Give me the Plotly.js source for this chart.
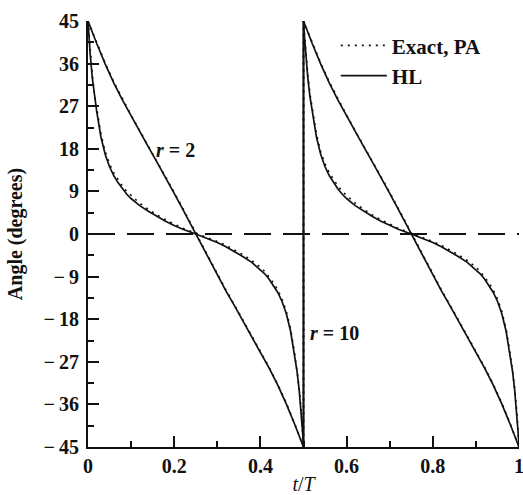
<!DOCTYPE html>
<html>
<head>
<meta charset="utf-8">
<script src="https://cdn.plot.ly/plotly-3.0.1.min.js"></script>
<style>
  html, body { margin: 0; padding: 0; background: #fff; }
  #chart { width: 523px; height: 495px; }
</style>
</head>
<body>
<div id="chart"></div>
<script>
// One half-period (t/T from 0 to 0.5) of each angle history; the second
// half-period repeats it.
const tR2 = [0, 0.01, 0.02, 0.04, 0.06, 0.08, 0.10, 0.12, 0.14, 0.16, 0.18, 0.20, 0.22, 0.25,
             0.28, 0.30, 0.32, 0.34, 0.36, 0.38, 0.40, 0.42, 0.44, 0.46, 0.48, 0.49, 0.5];
const hlR2 = [45, 42.6, 40.3, 35.9, 31.9, 28.3, 24.9, 21.6, 18.4, 15.2, 12.0, 8.6, 5.2, 0,
              -5.2, -8.6, -12.0, -15.2, -18.4, -21.6, -24.9, -28.3, -31.9, -35.9, -40.3, -42.6, -45];
const exactR2 = [45, 42.7, 40.4, 36.1, 32.1, 28.5, 25.1, 21.8, 18.6, 15.4, 12.2, 8.8, 5.4, 0.2,
                 -5.0, -8.4, -11.8, -15.0, -18.2, -21.4, -24.7, -28.1, -31.7, -35.7, -40.2, -42.5, -45];

const tR10 = [0, 0.002, 0.005, 0.01, 0.015, 0.02, 0.03, 0.04, 0.05, 0.06, 0.07,
              0.08, 0.09, 0.10, 0.12, 0.14, 0.16, 0.18, 0.20, 0.22, 0.25,
              0.28, 0.30, 0.32, 0.34, 0.36, 0.38, 0.40, 0.41, 0.42, 0.43,
              0.44, 0.45, 0.46, 0.47, 0.48, 0.485, 0.49, 0.495, 0.498, 0.5];
const hlR10 = [45, 42, 38, 33, 29, 26, 20.5, 16.8, 14.2, 12.3, 10.8,
               9.5, 8.4, 7.5, 6.0, 4.8, 3.7, 2.7, 1.8, 1.0, 0,
               -1.0, -1.8, -2.7, -3.7, -4.8, -6.0, -7.5, -8.4, -9.5, -10.8,
               -12.3, -14.2, -16.8, -20.5, -26, -29, -33, -38, -42, -45];
const exactR10 = [45, 42.3, 38.5, 33.6, 29.6, 26.6, 21.1, 17.4, 14.8, 12.9, 11.4,
                  10.1, 9.0, 8.1, 6.5, 5.2, 4.0, 3.0, 2.1, 1.2, 0.2,
                  -0.8, -1.6, -2.4, -3.4, -4.4, -5.6, -7.0, -7.9, -9.0, -10.3,
                  -11.8, -13.7, -16.3, -20.0, -25.5, -28.6, -32.6, -37.6, -41.8, -45];

const xTickVals = [0, 0.2, 0.4, 0.6, 0.8, 1];
const xTickText = ['0', '0.2', '0.4', '0.6', '0.8', '1'];
const yTickVals = [-45, -36, -27, -18, -9, 0, 9, 18, 27, 36, 45];
const yTickText = ['\u2212\u200945', '\u2212\u200936', '\u2212\u200927', '\u2212\u200918', '\u2212\u20099',
                   '0', '9', '18', '27', '36', '45'];

// Two periods: the half-period values again, shifted by 0.5 in t/T.
function twoPeriods(ts, vs) {
  return { x: ts.concat(ts.map(t => t + 0.5)), y: vs.concat(vs) };
}

const serif = 'Liberation Serif, Times New Roman, serif';
const ink = '#111';

const dotted = { color: ink, width: 1.6, dash: '2px,5px' };
const solid = { color: ink, width: 1.7 };

const e2 = twoPeriods(tR2, exactR2);
const e10 = twoPeriods(tR10, exactR10);
const h2 = twoPeriods(tR2, hlR2);
const h10 = twoPeriods(tR10, hlR10);

const traces = [
  { x: e10.x, y: e10.y, mode: 'lines', line: dotted, name: 'Exact, PA', legendgroup: 'exact', showlegend: true },
  { x: e2.x, y: e2.y, mode: 'lines', line: dotted, name: 'Exact, PA', legendgroup: 'exact', showlegend: false },
  { x: h2.x, y: h2.y, mode: 'lines', line: solid, name: 'HL', legendgroup: 'hl', showlegend: true },
  { x: h10.x, y: h10.y, mode: 'lines', line: solid, name: 'HL', legendgroup: 'hl', showlegend: false },
  { x: [0, 1], y: [0, 0], mode: 'lines', line: { color: ink, width: 2, dash: '27px,12px' }, showlegend: false, hoverinfo: 'skip' }
];

const labelFont = { family: serif, size: 20, color: ink, weight: 'bold' };

const axisCommon = {
  showline: true, linecolor: ink, linewidth: 2,
  ticks: 'inside', ticklen: 11, tickwidth: 2, tickcolor: ink,
  showgrid: false, zeroline: false, mirror: false,
  tickfont: labelFont, ticklabeloverflow: 'allow',
  tickmode: 'array', fixedrange: true
};

const layout = {
  width: 523, height: 495,
  margin: { l: 88, r: 4, t: 21, b: 48 },
  paper_bgcolor: '#fff', plot_bgcolor: '#fff',
  font: { family: serif, size: 20, color: ink },
  xaxis: Object.assign({}, axisCommon, {
    range: [0, 1], tickvals: xTickVals, ticktext: xTickText,
    minor: { dtick: 0.1, tick0: 0, ticks: 'inside', ticklen: 6, tickwidth: 2, tickcolor: ink },
    title: { text: '<i>t</i>/<i>T</i>', font: { family: serif, size: 20, color: ink }, standoff: 5 }
  }),
  yaxis: Object.assign({}, axisCommon, {
    range: [-45, 45], tickvals: yTickVals, ticktext: yTickText,
    ticklabelstandoff: 3,
    minor: { dtick: 4.5, tick0: 0, ticks: 'inside', ticklen: 6, tickwidth: 2, tickcolor: ink },
    title: { text: 'Angle (degrees)', font: labelFont, standoff: 16 }
  }),
  showlegend: true,
  legend: {
    x: 0.575, y: 0.99, xanchor: 'left', yanchor: 'top',
    bgcolor: 'rgba(0,0,0,0)', borderwidth: 0,
    font: { family: serif, size: 21, color: ink, weight: 'bold' },
    itemwidth: 46, tracegroupgap: 0
  },
  annotations: [
    { x: 0.203, y: 17.7, xref: 'x', yref: 'y', text: '<i>r</i> = 2', showarrow: false, font: labelFont },
    { x: 0.572, y: -21, xref: 'x', yref: 'y', text: '<i>r</i> = 10', showarrow: false, font: labelFont }
  ]
};

Plotly.newPlot('chart', traces, layout, { staticPlot: true, displayModeBar: false });
</script>
</body>
</html>
